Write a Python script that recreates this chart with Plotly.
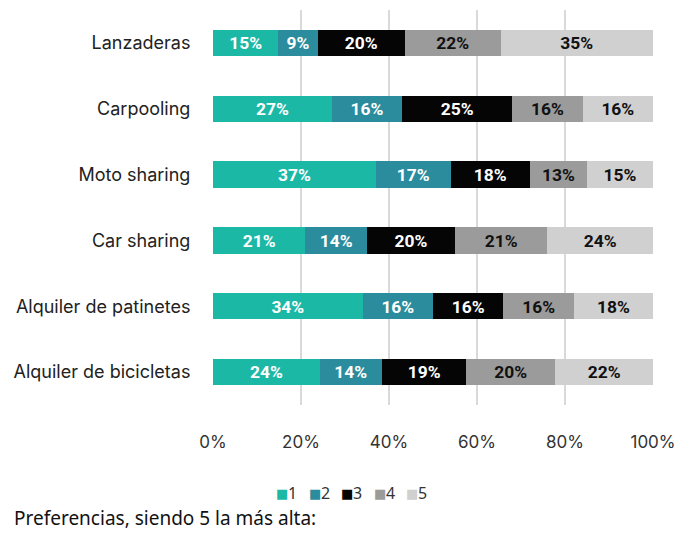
import plotly.graph_objects as go

categories = ["Lanzaderas", "Carpooling", "Moto sharing", "Car sharing",
              "Alquiler de patinetes", "Alquiler de bicicletas"]
levels = ["1", "2", "3", "4", "5"]
values = {
    "1": [15, 27, 37, 21, 34, 24],
    "2": [9, 16, 17, 14, 16, 14],
    "3": [20, 25, 18, 20, 16, 19],
    "4": [22, 16, 13, 21, 16, 20],
    "5": [35, 16, 15, 24, 18, 22],
}
tick_vals = [0, 20, 40, 60, 80, 100]
tick_text = ["0%", "20%", "40%", "60%", "80%", "100%"]

colors = {"1": "#1cb8a6", "2": "#2a8c9c", "3": "#050505", "4": "#9b9b9b", "5": "#d0d0d0"}
text_colors = {"1": "white", "2": "white", "3": "white", "4": "#111111", "5": "#111111"}

fig = go.Figure()
for lv in levels:
    fig.add_trace(go.Bar(
        y=categories, x=values[lv], orientation="h", name=lv,
        marker=dict(color=colors[lv], line=dict(width=0)),
        text=[f"{v}%" for v in values[lv]],
        textposition="inside", insidetextanchor="middle",
        textfont=dict(family="Roboto", size=18, color=text_colors[lv], weight="bold"),
        width=0.4, hoverinfo="skip", showlegend=False,
    ))

fig.update_layout(
    barmode="stack", barnorm="percent",
    width=676, height=535,
    margin=dict(l=213, r=23, t=10, b=130),
    paper_bgcolor="white", plot_bgcolor="white",
    uniformtext=dict(mode="show", minsize=10),
)
fig.update_xaxes(
    range=[0, 100], tickvals=tick_vals, ticktext=tick_text,
    showgrid=True, gridcolor="#d9d9d9", gridwidth=1.5,
    zeroline=False, showline=False, automargin=False,
    tickfont=dict(family="Inter", size=17, color="#333333"),
    ticks="outside", ticklen=22, tickcolor="rgba(0,0,0,0)",
)
fig.update_yaxes(
    categoryorder="array", categoryarray=categories, autorange="reversed",
    range=[5.5, -0.5], automargin=False,
    tickfont=dict(family="Inter", size=18, color="#222222"),
    ticks="outside", ticklen=18, tickcolor="rgba(0,0,0,0)",
    showgrid=False, showline=False,
)

# compact legend row: small colored square followed by the level number
plot_w, plot_h = 440, 395
legend_x0 = 274
legend_step = 32.5
legend_y = -(493 - 405) / plot_h
for i, lv in enumerate(levels):
    x0 = legend_x0 + i * legend_step
    fig.add_annotation(
        text="■", xref="paper", yref="paper",
        x=(x0 - 213) / plot_w, y=legend_y,
        xanchor="left", yanchor="middle", showarrow=False,
        font=dict(family="DejaVu Sans", size=13, color=colors[lv]),
    )
    fig.add_annotation(
        text=lv, xref="paper", yref="paper",
        x=(x0 + 12 - 213) / plot_w, y=legend_y,
        xanchor="left", yanchor="middle", showarrow=False,
        font=dict(family="Noto Sans", size=16, color="#333333"),
    )

fig.add_annotation(
    text="Preferencias, siendo 5 la más alta:", xref="paper", yref="paper",
    x=-201 / plot_w, y=-(518 - 405) / plot_h, xanchor="left", yanchor="middle",
    showarrow=False,
    font=dict(family="Noto Sans", size=19, color="#111111"),
)

fig.write_html("out.html")
